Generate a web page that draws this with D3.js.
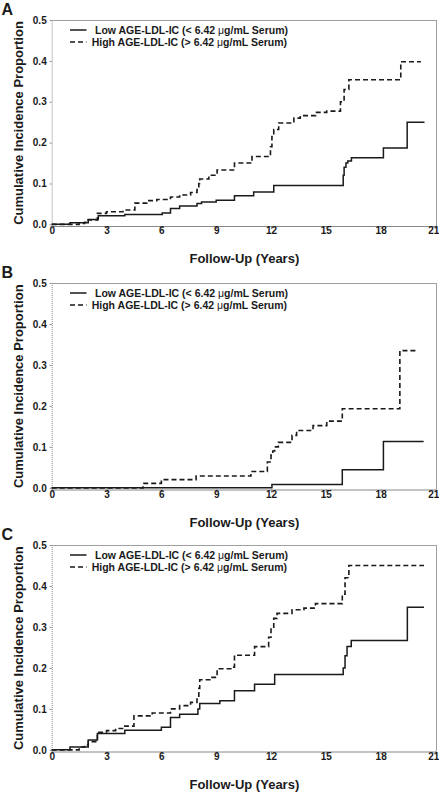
<!DOCTYPE html>
<html><head><meta charset="utf-8">
<script src="https://cdn.jsdelivr.net/npm/d3@7"></script>
<style>
html,body{margin:0;padding:0;background:#fff;}
svg{display:block;font-family:"Liberation Sans",Arial,sans-serif;}
</style></head>
<body>
<script>
// ---- data ----
const xTicks = [0, 3, 6, 9, 12, 15, 18, 21];
const yTicks = [0, 0.1, 0.2, 0.3, 0.4, 0.5];
const panelLabels = ["A", "B", "C"];
const legendLabels = ["Low AGE-LDL-IC (< 6.42 μg/mL Serum)", "High AGE-LDL-IC (> 6.42 μg/mL Serum)"];
const xTitle = "Follow-Up (Years)";
const yTitle = "Cumulative Incidence Proportion";

const aLowT  = [0,1.0,2.0,2.55,4.0,6.05,6.5,7.0,7.95,8.2,9.0,10.0,11.05,12.15,15.95,16.0,16.1,16.2,16.4,18.15,19.45,20.4];
const aLowV  = [0,0.004,0.012,0.021,0.024,0.028,0.039,0.045,0.051,0.055,0.059,0.07,0.079,0.095,0.12,0.14,0.15,0.155,0.163,0.187,0.25,0.25];
const aHighT = [0,1.5,1.8,2.0,2.5,3.0,3.9,4.55,5.2,5.75,6.5,7.0,7.6,7.95,8.05,8.1,8.6,9.05,10.0,10.96,11.97,12.05,12.15,12.42,13.25,13.6,14.44,15.05,15.8,16.0,16.26,19.1,20.2];
const aHighV = [0,0.002,0.005,0.011,0.027,0.031,0.035,0.052,0.058,0.061,0.067,0.072,0.078,0.085,0.1,0.111,0.12,0.133,0.15,0.166,0.19,0.215,0.232,0.248,0.26,0.266,0.274,0.277,0.3,0.33,0.354,0.398,0.398];

const bLowT  = [0,12.05,15.9,18.15,20.35];
const bLowV  = [0,0.008,0.044,0.113,0.113];
const bHighT = [0,5.0,6.0,7.9,10.9,11.8,12.0,12.1,12.2,12.4,13.15,13.4,14.3,15.05,15.9,19.05,19.9];
const bHighV = [0,0.011,0.02,0.029,0.04,0.063,0.08,0.09,0.1,0.111,0.128,0.14,0.152,0.163,0.193,0.335,0.335];

const cLowT  = [0,1.0,2.0,2.5,4.0,6.0,6.5,7.0,8.0,8.1,9.2,10.0,11.1,12.2,15.95,16.05,16.16,16.39,19.46,20.37];
const cLowV  = [0,0.007,0.024,0.04,0.048,0.055,0.079,0.087,0.1,0.113,0.12,0.144,0.16,0.184,0.2,0.23,0.252,0.267,0.348,0.348];
const cHighT = [0,1.5,1.8,2.0,2.5,3.0,3.5,4.0,4.5,5.5,6.5,7.0,7.6,7.95,8.05,8.1,8.7,9.05,9.8,10.0,11.1,11.87,12.0,12.15,12.33,13.15,13.8,14.43,15.9,16.05,16.26,20.37];
const cHighV = [0,0.007,0.012,0.02,0.043,0.047,0.052,0.058,0.083,0.09,0.1,0.108,0.116,0.124,0.15,0.171,0.177,0.198,0.202,0.231,0.252,0.275,0.297,0.321,0.333,0.342,0.346,0.357,0.38,0.42,0.45,0.45];

// ---- layout ----
const W = 439, H = 792;
const left = 51.7, right = 437;
const tops = [20, 283, 545];
const bottoms = [226, 489.5, 751.5];
const font = '"Liberation Sans", Arial, sans-serif';
const ink = "#1a1a1a";

const panels = [
  {low: d3.zip(aLowT, aLowV), high: d3.zip(aHighT, aHighV)},
  {low: d3.zip(bLowT, bLowV), high: d3.zip(bHighT, bHighV)},
  {low: d3.zip(cLowT, cLowV), high: d3.zip(cHighT, cHighV)}
];

const svg = d3.select("body").append("svg").attr("width", W).attr("height", H);
svg.append("rect").attr("width", W).attr("height", H).attr("fill", "#fff");

const x = d3.scaleLinear().domain([0, 21]).range([left, 435.5]);

panels.forEach((p, i) => {
  const top = tops[i], bot = bottoms[i];
  const y = d3.scaleLinear().domain([-0.004, 0.5]).range([bot, top]);
  const g = svg.append("g");

  // frame (top, right)
  g.append("line").attr("x1", left).attr("x2", right).attr("y1", top + 0.5).attr("y2", top + 0.5)
    .attr("stroke", "#a0a0a0").attr("stroke-width", 1);
  g.append("line").attr("x1", right - 0.5).attr("x2", right - 0.5).attr("y1", top).attr("y2", bot)
    .attr("stroke", "#a0a0a0").attr("stroke-width", 1);

  // x axis
  const xa = g.append("g").attr("transform", `translate(0,${bot})`)
    .call(d3.axisBottom(x).tickValues(xTicks).tickFormat(d3.format("d")).tickSizeInner(3).tickSizeOuter(0).tickPadding(-2));
  xa.select(".domain").attr("stroke", "#888");
  xa.selectAll(".tick line").attr("stroke", "#888");
  xa.selectAll("text").attr("font-family", font).attr("font-weight", "bold").attr("font-size", 10).attr("fill", ink);
  xa.selectAll(".tick").filter(d => d === 21).select("text").attr("text-anchor", "end").attr("x", 3.4);

  // y axis
  const ya = g.append("g").attr("transform", `translate(${left},0)`)
    .call(d3.axisLeft(y).tickValues(yTicks).tickFormat(d3.format(".1f")).tickSizeInner(2).tickSizeOuter(0).tickPadding(3));
  ya.select(".domain").attr("stroke", "#888").attr("stroke-dasharray", "1,1");
  ya.selectAll(".tick line").attr("stroke", "#888");
  ya.selectAll("text").attr("font-family", font).attr("font-weight", "bold").attr("font-size", 10).attr("fill", ink);

  // curves
  const line = d3.line().x(d => x(d[0])).y(d => y(d[1])).curve(d3.curveStepAfter);
  g.append("path").datum(p.low).attr("d", line).attr("fill", "none")
    .attr("stroke", ink).attr("stroke-width", 1.5);
  g.append("path").datum(p.high).attr("d", line).attr("fill", "none")
    .attr("stroke", ink).attr("stroke-width", 1.6).attr("stroke-dasharray", "5,3");

  // legend
  legendLabels.forEach((lab, j) => {
    const ly = top + 10 + j * 12;
    g.append("line").attr("x1", 70).attr("x2", 86.5).attr("y1", ly).attr("y2", ly)
      .attr("stroke", ink).attr("stroke-width", 1.5)
      .attr("stroke-dasharray", j === 1 ? "5,3" : null);
    const parts = lab.split("μ");
    const t = g.append("text").attr("x", j === 0 ? 95 : 91.7).attr("y", ly).attr("dy", "0.35em")
      .attr("font-family", font).attr("font-size", 10.5).attr("font-weight", "bold").attr("fill", ink);
    t.append("tspan").text(parts[0]);
    t.append("tspan").attr("font-weight", "normal").text("μ");
    t.append("tspan").text(parts[1]);
  });

  // axis titles
  g.append("text").attr("x", (left + right) / 2).attr("y", bot + 37).attr("text-anchor", "middle")
    .attr("font-family", font).attr("font-size", 13).attr("font-weight", "bold").attr("fill", ink).text(xTitle);
  g.append("text").attr("transform", `translate(23,${(top + bot) / 2}) rotate(-90)`).attr("text-anchor", "middle")
    .attr("font-family", font).attr("font-size", 13).attr("font-weight", "bold").attr("fill", ink).text(yTitle);

  // panel letter
  g.append("text").attr("x", 1.5).attr("y", top - 5).attr("font-family", font).attr("font-size", 16)
    .attr("font-weight", "bold").attr("fill", ink).text(panelLabels[i]);
});
</script>
</body></html>
